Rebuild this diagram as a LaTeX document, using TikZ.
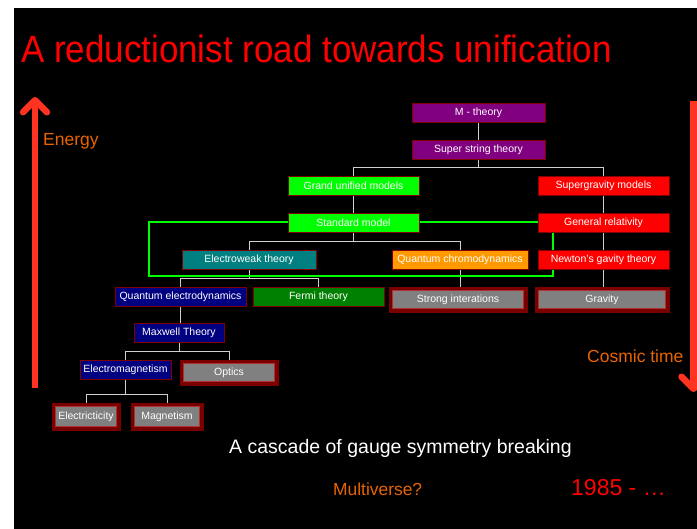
\documentclass[tikz,border=0pt]{standalone}
\usepackage{fontspec}
\setmainfont{Liberation Sans}
\usetikzlibrary{arrows.meta}

\definecolor{cpurple}{HTML}{800080}
\definecolor{clime}{HTML}{00FF00}
\definecolor{cred}{HTML}{FF0000}
\definecolor{cteal}{HTML}{008080}
\definecolor{corange}{HTML}{FF9900}
\definecolor{cnavy}{HTML}{000080}
\definecolor{cgreen}{HTML}{008000}
\definecolor{cgray}{HTML}{808080}
\definecolor{boxedge}{HTML}{800000}
\definecolor{frame}{HTML}{7A0000}
\definecolor{frameline}{HTML}{B03030}
\definecolor{axisred}{HTML}{FF3322}
\definecolor{labelorange}{HTML}{E86400}
\definecolor{linkgray}{HTML}{D0D0D0}

\pgfdeclarelayer{back}
\pgfdeclarelayer{mid}
\pgfsetlayers{back,mid,main}

\tikzset{
  box/.style={draw=boxedge, line width=0.8pt, minimum height=19pt, inner sep=0pt,
    text=white, font=\fontsize{10.5}{12}\selectfont},
  framebox/.style={fill=frame, draw=frame, line width=0.6pt, minimum height=25pt,
    inner sep=0pt, text=white, font=\fontsize{10.5}{12}\selectfont,
    path picture={
      \fill[cgray] ([shift={(3.5pt,3.5pt)}]path picture bounding box.south west)
        rectangle ([shift={(-3.5pt,-3.5pt)}]path picture bounding box.north east);
      \draw[frameline, line width=0.7pt] ([shift={(3.5pt,3.5pt)}]path picture bounding box.south west)
        rectangle ([shift={(-3.5pt,-3.5pt)}]path picture bounding box.north east);
    }},
  conn/.style={draw=linkgray, line width=0.9pt},
  ring/.style={draw=clime, line width=2pt},
  axis/.style={draw=axisred, line width=6.5pt,
    -{Straight Barb[length=12pt,width=24pt,line cap=round,line join=round]}},
}

\begin{document}
\begin{tikzpicture}[x=1pt,y=-1pt]
  \useasboundingbox (0,0) rectangle (697,529);
  \begin{pgfonlayer}{back}
    \fill[white] (0,0) rectangle (697,529);
    \fill[black] (14,8) rectangle (697,529);
  \end{pgfonlayer}

  % title
  \node[anchor=base west, text=cred, inner sep=0pt, xscale=0.92,
        font=\fontsize{38}{40}\selectfont] (title) at (21,63) {A reductionist road towards unification};

  % top of the tree
  \node[box, fill=cpurple, minimum width=133pt] (mth) at (478.5,112.5) {M - theory};
  \node[box, fill=cpurple, minimum width=133pt] (sst) at (478.5,149.5) {Super string theory};
  \node[box, fill=clime,   minimum width=131pt] (gum) at (353.5,185.5) {Grand unified models};
  \node[box, fill=cred,    minimum width=131pt] (sgm) at (603.5,185.5) {Supergravity models};
  \node[box, fill=clime,   minimum width=131pt] (smd) at (353.5,222.5) {Standard model};
  \node[box, fill=cred,    minimum width=131pt] (gr)  at (603.5,222.5) {General relativity};
  \node[box, fill=cteal,   minimum width=134pt] (ew)  at (249,259.5)   {Electroweak theory};
  \node[box, fill=corange, minimum width=136pt] (qcd) at (460,259.5)   {Quantum chromodynamics};
  \node[box, fill=cred,    minimum width=131pt] (ngt) at (603.5,259.5) {Newton's gavity theory};
  \node[box, fill=cnavy,   minimum width=131pt] (qed) at (180.5,296.5) {Quantum electrodynamics};
  \node[box, fill=cgreen,  minimum width=131pt] (fermi) at (318.5,296.5) {Fermi theory};
  \node[framebox, minimum width=138pt] (strong)  at (458,299.5) {Strong interations};
  \node[framebox, minimum width=134pt] (gravity) at (602,299.5) {Gravity};
  \node[box, fill=cnavy,   minimum width=90pt] (maxwell) at (179,332.5) {Maxwell Theory};
  \node[box, fill=cnavy,   minimum width=91pt] (em) at (125.5,369.5) {Electromagnetism};
  \node[framebox, minimum width=98pt] (optics) at (229,372.5) {Optics};
  \node[framebox, minimum width=68pt, minimum height=27pt] (elec) at (86,416.5) {Electricticity};
  \node[framebox, minimum width=72pt, minimum height=27pt] (mag)  at (167,416.5) {Magnetism};

  \begin{pgfonlayer}{mid}
    % tree links
    \draw[conn] (mth.south) -- (sst.north);
    \draw[conn] (sst.south) -- ++(0,8.5) -| (gum.north);
    \draw[conn] (sst.south) -- ++(0,8.5) -| (sgm.north);
    \draw[conn] (gum.south) -- (smd.north);
    \draw[conn] (sgm.south) -- (gr.north);
    \draw[conn] (gr.south) -- (ngt.north);
    \draw[conn] (ngt.south) -- (ngt.south |- gravity.north);
    \draw[conn] (smd.south) -- ++(0,9) -| (ew.north);
    \draw[conn] (smd.south) -- ++(0,9) -| (qcd.north);
    \draw[conn] (qcd.south) -- (qcd.south |- strong.north);
    \draw[conn] (ew.south) -- ++(0,9) -| (qed.north);
    \draw[conn] (ew.south) -- ++(0,9) -| (fermi.north);
    \draw[conn] (qed.south) -- (qed.south |- maxwell.north);
    \draw[conn] (maxwell.south) -- ++(0,9) -| (em.north);
    \draw[conn] (maxwell.south) -- ++(0,9) -| (optics.north);
    \draw[conn] (em.south) -- ++(0,15) -| (elec.north);
    \draw[conn] (em.south) -- ++(0,15) -| (mag.north);
    % green loop around the standard model
    \coordinate (loopbl) at (149,276);
    \draw[ring] (smd.east) -- (gr.west);
    \draw[ring] (smd.west) -| (loopbl) -| ([xshift=15pt]gr.south west);
  \end{pgfonlayer}

  % axes
  \coordinate (ebot) at (35,388);
  \coordinate (etop) at (35,97);
  \draw[axis] (ebot) -- (etop);
  \coordinate (ttop) at (693.5,101);
  \coordinate (tbot) at (693.5,392);
  \draw[axis] (ttop) -- (tbot);

  % labels
  \node[anchor=base west, inner sep=0pt, text=labelorange, font=\fontsize{17.5}{20}\selectfont]
    (energy) at (43,146) {Energy};
  \node[anchor=base west, inner sep=0pt, text=labelorange, font=\fontsize{17.5}{20}\selectfont]
    (ctime) at (587,363) {Cosmic time};
  \node[anchor=base west, inner sep=0pt, text=white, font=\fontsize{19.5}{22}\selectfont]
    (cascade) at (229,454) {A cascade of gauge symmetry breaking};
  \node[anchor=base west, inner sep=0pt, text=labelorange, font=\fontsize{17.4}{20}\selectfont]
    (multi) at (333,496) {Multiverse?};
  \node[anchor=base west, inner sep=0pt, text=cred, font=\fontsize{23}{26}\selectfont]
    (year) at (571,496) {1985 - …};
\end{tikzpicture}
\end{document}
